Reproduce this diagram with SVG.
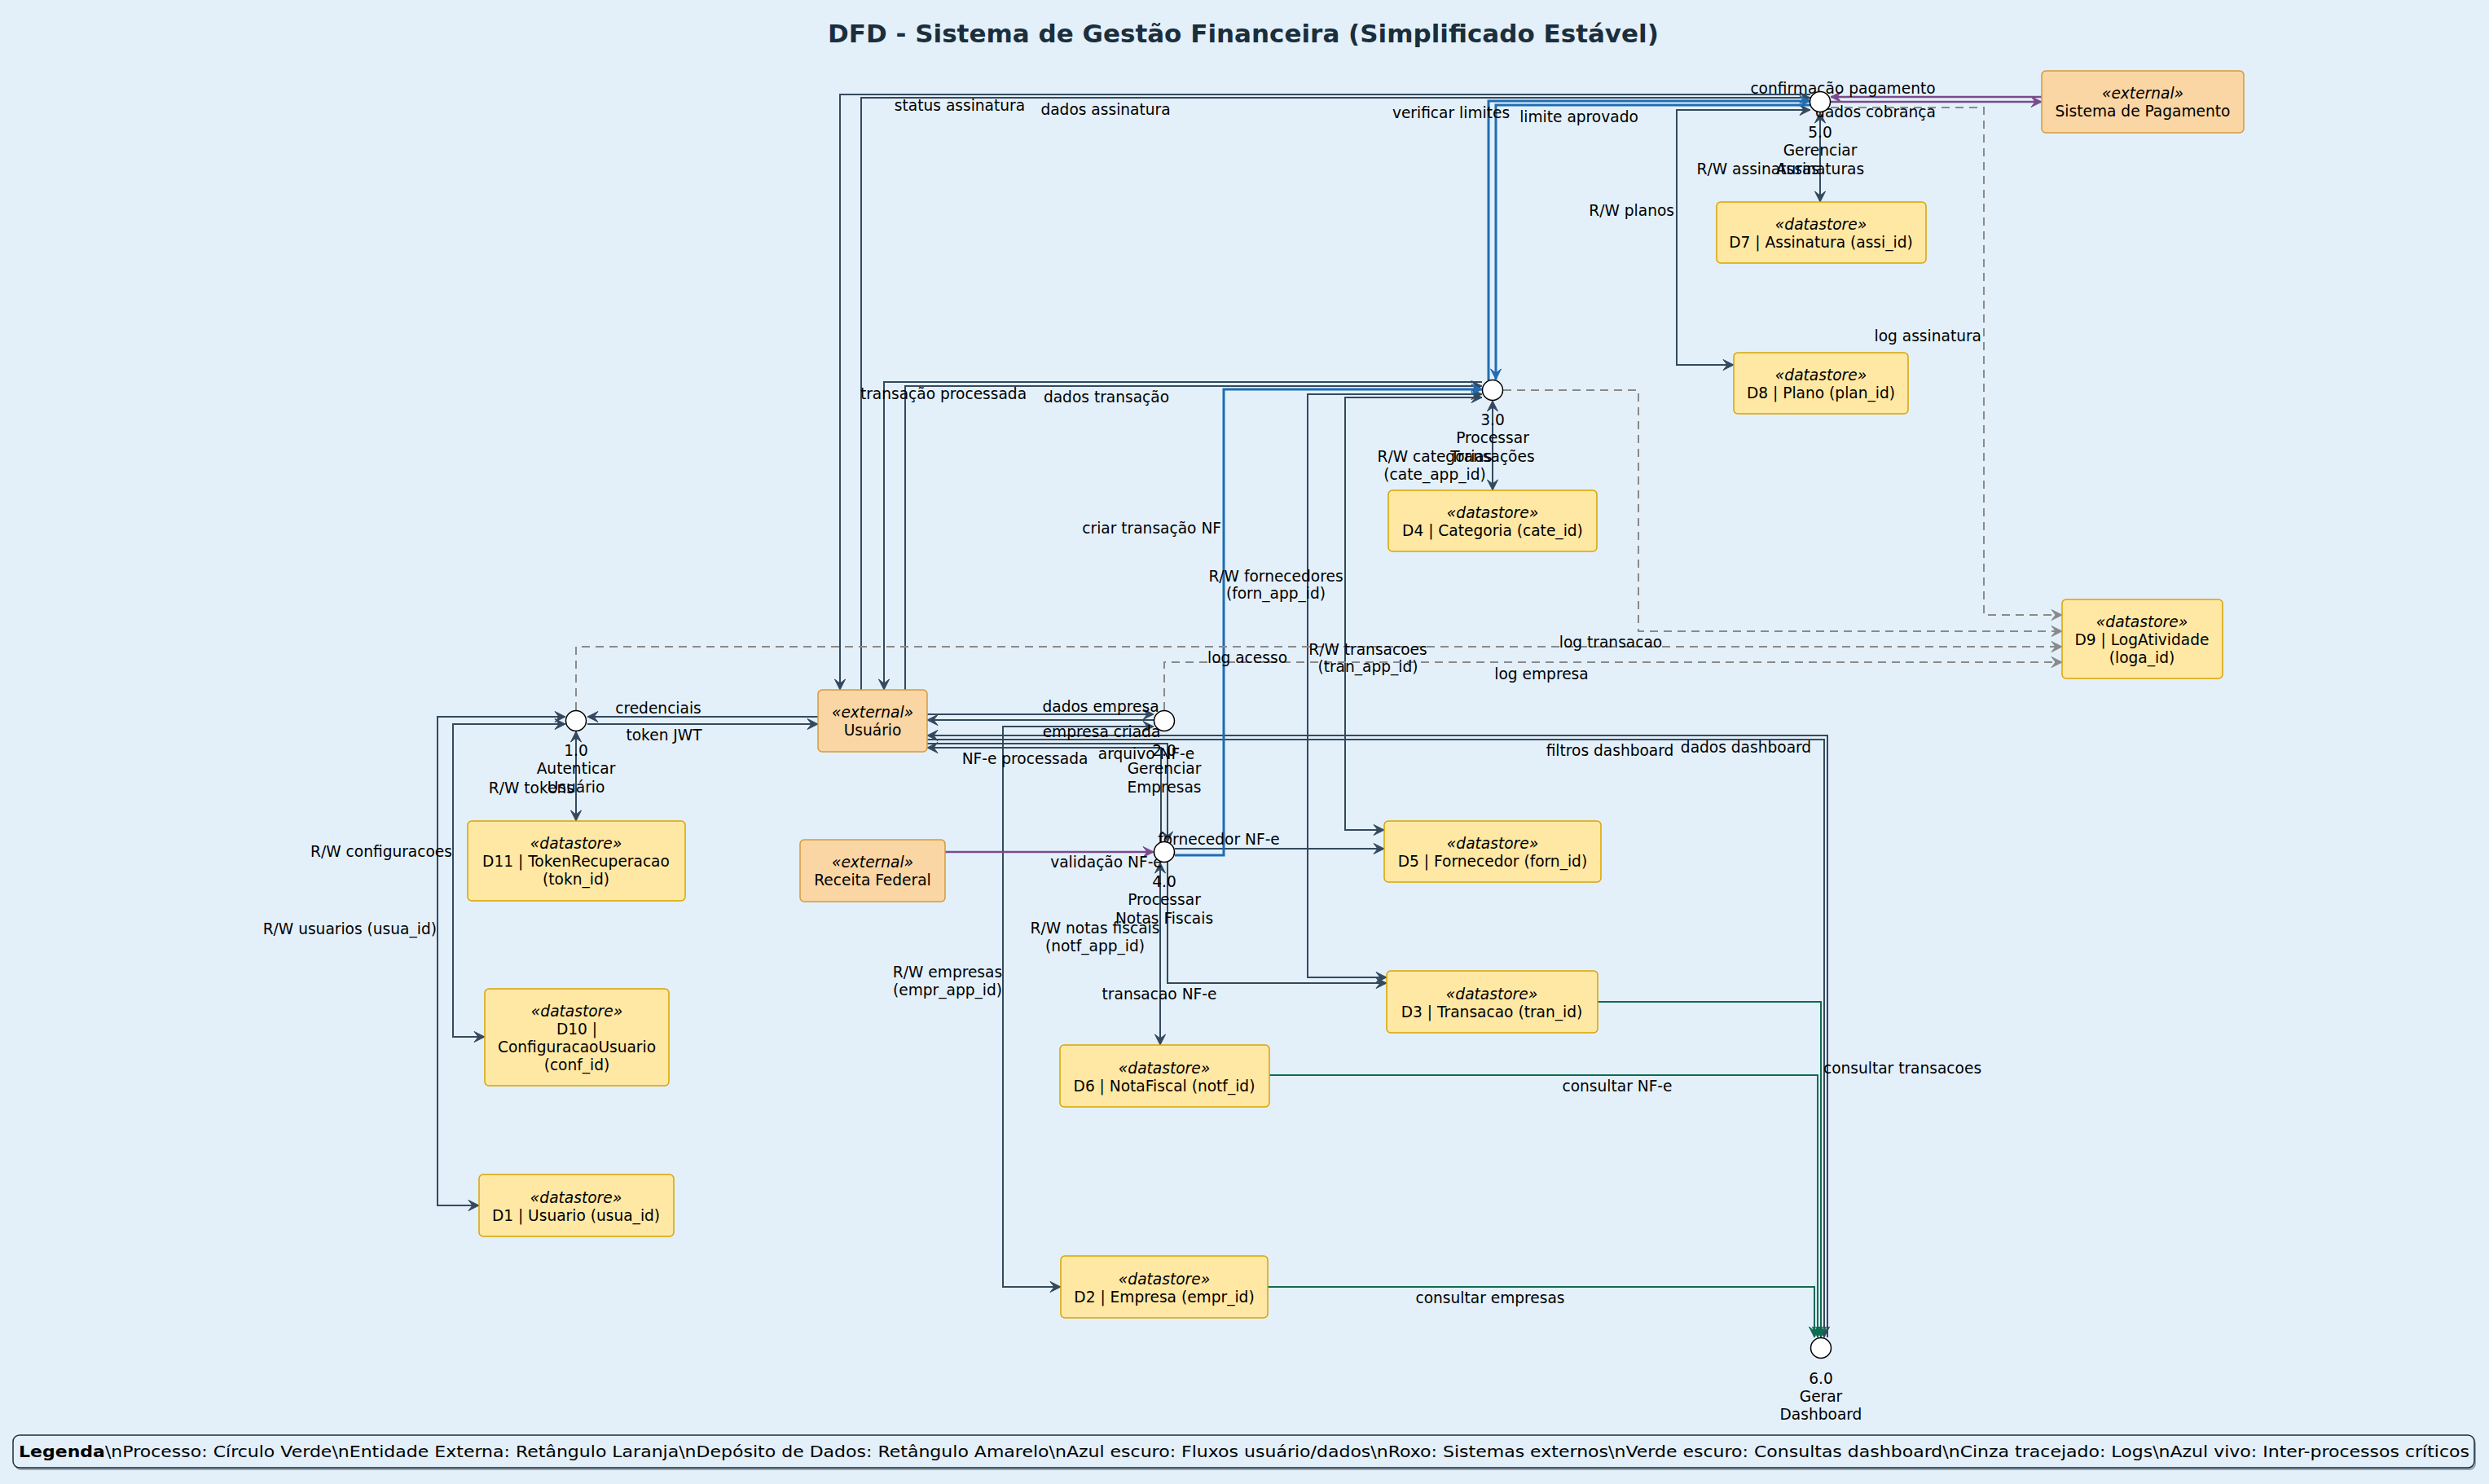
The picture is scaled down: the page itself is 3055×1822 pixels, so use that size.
<svg xmlns="http://www.w3.org/2000/svg" width="3055" height="1822" viewBox="0 0 3055 1822">
<style>
text{font-family:"DejaVu Sans","Liberation Sans",sans-serif;font-size:18.6px;fill:#000}
.t{font-size:31px;font-weight:bold;fill:#1B2E3C;text-anchor:middle}
.c{text-anchor:middle}
.e{text-anchor:end}
.st{font-style:italic}
.ext{fill:#F9D6A4;stroke:#D39A3C;stroke-width:1.5}
.ds{fill:#FFE8A4;stroke:#D9A400;stroke-width:1.5}
.proc{fill:#FFFFFF;stroke:#000;stroke-width:1.5}
.f{fill:none;stroke:#34495E;stroke-width:2}
.b{fill:none;stroke:#1F6DB3;stroke-width:3}
.p{fill:none;stroke:#7A4B8C;stroke-width:2.5}
.g{fill:none;stroke:#0F6B52;stroke-width:2}
.d{fill:none;stroke:#8A8A8A;stroke-width:2;stroke-dasharray:10 7}
</style>
<defs>
<marker id="af" viewBox="-16 -8 18 16" refX="0" refY="0" markerWidth="18" markerHeight="16" markerUnits="userSpaceOnUse" orient="auto-start-reverse"><path d="M0,0 L-13,-6.5 L-8,0 L-13,6.5 Z" fill="#34495E" stroke="#34495E" stroke-width="1"/></marker>
<marker id="ab" viewBox="-16 -8 18 16" refX="0" refY="0" markerWidth="18" markerHeight="16" markerUnits="userSpaceOnUse" orient="auto-start-reverse"><path d="M0,0 L-13,-6.5 L-8,0 L-13,6.5 Z" fill="#1F6DB3" stroke="#1F6DB3" stroke-width="1"/></marker>
<marker id="ap" viewBox="-16 -8 18 16" refX="0" refY="0" markerWidth="18" markerHeight="16" markerUnits="userSpaceOnUse" orient="auto-start-reverse"><path d="M0,0 L-13,-6.5 L-8,0 L-13,6.5 Z" fill="#7A4B8C" stroke="#7A4B8C" stroke-width="1"/></marker>
<marker id="ag" viewBox="-16 -8 18 16" refX="0" refY="0" markerWidth="18" markerHeight="16" markerUnits="userSpaceOnUse" orient="auto-start-reverse"><path d="M0,0 L-13,-6.5 L-8,0 L-13,6.5 Z" fill="#0F6B52" stroke="#0F6B52" stroke-width="1"/></marker>
<marker id="ad" viewBox="-16 -8 18 16" refX="0" refY="0" markerWidth="18" markerHeight="16" markerUnits="userSpaceOnUse" orient="auto-start-reverse"><path d="M0,0 L-13,-6.5 L-8,0 L-13,6.5 Z" fill="#8A8A8A" stroke="#8A8A8A" stroke-width="1"/></marker>
</defs>
<rect x="0" y="0" width="3055" height="1822" fill="#E3F0FA"/>
<text class="t" x="1526" y="52">DFD - Sistema de Gestão Financeira (Simplificado Estável)</text>

<g id="connectors">
<!-- dark flows -->
<path class="f" d="M1004,880 L721,880" marker-end="url(#af)"/>
<path class="f" d="M721,889 L1004,889" marker-end="url(#af)"/>
<path class="f" d="M707,898 L707,1008" marker-start="url(#af)" marker-end="url(#af)"/>
<path class="f" d="M694,889 L556,889 L556,1273 L595,1273" marker-start="url(#af)" marker-end="url(#af)"/>
<path class="f" d="M694,880 L537,880 L537,1480 L588,1480" marker-start="url(#af)" marker-end="url(#af)"/>
<path class="f" d="M1138,877 L1416,877" marker-end="url(#af)"/>
<path class="f" d="M1416,884 L1138,884" marker-end="url(#af)"/>
<path class="f" d="M1416,892 L1231,892 L1231,1580 L1302,1580" marker-start="url(#af)" marker-end="url(#af)"/>
<path class="f" d="M1138,913 L1433,913 L1433,1034" marker-end="url(#af)"/>
<path class="f" d="M1425,1034 L1425,918 L1138,918" marker-end="url(#af)"/>
<path class="f" d="M1424,1059 L1424,1283" marker-start="url(#af)" marker-end="url(#af)"/>
<path class="f" d="M1442,1042 L1699,1042" marker-end="url(#af)"/>
<path class="f" d="M1433,1058 L1433,1207 L1702,1207" marker-end="url(#af)"/>
<path class="f" d="M1111,847 L1111,474 L1819,474" marker-end="url(#af)"/>
<path class="f" d="M1819,469 L1085,469 L1085,847" marker-end="url(#af)"/>
<path class="f" d="M1832,492 L1832,602" marker-start="url(#af)" marker-end="url(#af)"/>
<path class="f" d="M1819,488 L1651,488 L1651,1019 L1699,1019" marker-start="url(#af)" marker-end="url(#af)"/>
<path class="f" d="M1819,484 L1605,484 L1605,1200 L1702,1200" marker-start="url(#af)" marker-end="url(#af)"/>
<path class="f" d="M1057,847 L1057,120 L2222,120" marker-end="url(#af)"/>
<path class="f" d="M2222,116 L1031,116 L1031,847" marker-end="url(#af)"/>
<path class="f" d="M2234,138 L2234,248" marker-start="url(#af)" marker-end="url(#af)"/>
<path class="f" d="M2222,135 L2058,135 L2058,448 L2128,448" marker-start="url(#af)" marker-end="url(#af)"/>
<path class="f" d="M1138,908 L2239,908 L2239,1642" marker-end="url(#af)"/>
<path class="f" d="M2243,1642 L2243,903 L1138,903" marker-end="url(#af)"/>
<!-- blue critical -->
<path class="b" d="M1442,1050 L1502,1050 L1502,478 L1819,478" marker-end="url(#ab)"/>
<path class="b" d="M1827,467 L1827,124 L2222,124" marker-end="url(#ab)"/>
<path class="b" d="M2222,129 L1836,129 L1836,466" marker-end="url(#ab)"/>
<!-- purple external -->
<path class="p" d="M2506,119 L2247,119" marker-end="url(#ap)"/>
<path class="p" d="M2247,125 L2506,125" marker-end="url(#ap)"/>
<path class="p" d="M1160,1046 L1416,1046" marker-end="url(#ap)"/>
<!-- green dashboard -->
<path class="g" d="M1961,1230 L2235,1230 L2235,1642" marker-end="url(#ag)"/>
<path class="g" d="M1558,1320 L2231,1320 L2231,1642" marker-end="url(#ag)"/>
<path class="g" d="M1556,1580 L2227,1580 L2227,1642" marker-end="url(#ag)"/>
<!-- gray logs -->
<path class="d" d="M707,872 L707,794 L2531,794" marker-end="url(#ad)"/>
<path class="d" d="M1429,872 L1429,813 L2531,813" marker-end="url(#ad)"/>
<path class="d" d="M1845,479 L2011,479 L2011,775 L2531,775" marker-end="url(#ad)"/>
<path class="d" d="M2247,132 L2435,132 L2435,755 L2531,755" marker-end="url(#ad)"/>
<!-- labels -->
<text class="c" x="808" y="876">credenciais</text>
<text class="c" x="815" y="909">token JWT</text>
<text class="e" x="705" y="974">R/W tokens</text>
<text class="e" x="555" y="1052">R/W configuracoes</text>
<text class="e" x="536" y="1147">R/W usuarios (usua_id)</text>
<text class="c" x="1351" y="874">dados empresa</text>
<text class="c" x="1352" y="905">empresa criada</text>
<text class="c" x="1258" y="938">NF-e processada</text>
<text class="c" x="1407" y="932">arquivo NF-e</text>
<text class="c" x="1163" y="1200">R/W empresas</text>
<text class="c" x="1163" y="1222">(empr_app_id)</text>
<text class="c" x="1358" y="1065">validação NF-e</text>
<text class="c" x="1496" y="1037">fornecedor NF-e</text>
<text class="c" x="1344" y="1146">R/W notas fiscais</text>
<text class="c" x="1344" y="1168">(notf_app_id)</text>
<text class="c" x="1423" y="1227">transacao NF-e</text>
<text class="e" x="1499" y="655">criar transação NF</text>
<text class="c" x="1358" y="494">dados transação</text>
<text class="c" x="1158" y="490">transação processada</text>
<text class="c" x="1761" y="567">R/W categorias</text>
<text class="c" x="1761" y="589">(cate_app_id)</text>
<text class="c" x="1566" y="714">R/W fornecedores</text>
<text class="c" x="1566" y="735">(forn_app_id)</text>
<text class="c" x="1679" y="804">R/W transacoes</text>
<text class="c" x="1679" y="825">(tran_app_id)</text>
<text class="c" x="1781" y="145">verificar limites</text>
<text class="c" x="1938" y="150">limite aprovado</text>
<text class="c" x="1178" y="136">status assinatura</text>
<text class="c" x="1357" y="141">dados assinatura</text>
<text class="c" x="2262" y="115">confirmação pagamento</text>
<text class="c" x="2302" y="144">dados cobrança</text>
<text class="e" x="2233" y="214">R/W assinaturas</text>
<text class="e" x="2055" y="265">R/W planos</text>
<text class="e" x="2432" y="419">log assinatura</text>
<text class="c" x="1977" y="795">log transacao</text>
<text class="c" x="1531" y="814">log acesso</text>
<text class="c" x="1892" y="834">log empresa</text>
<text class="c" x="1976" y="928">filtros dashboard</text>
<text class="c" x="2143" y="924">dados dashboard</text>
<text class="c" x="2335" y="1318">consultar transacoes</text>
<text class="c" x="1985" y="1340">consultar NF-e</text>
<text class="c" x="1829" y="1600">consultar empresas</text>
</g>

<g id="p1"><circle class="proc" cx="707" cy="885" r="12.5"/><text class="c" x="707" y="928">1.0</text><text class="c" x="707" y="950">Autenticar</text><text class="c" x="707" y="973">Usuário</text></g>
<g id="p2"><circle class="proc" cx="1429" cy="885" r="12.5"/><text class="c" x="1429" y="928">2.0</text><text class="c" x="1429" y="950">Gerenciar</text><text class="c" x="1429" y="973">Empresas</text></g>
<g id="p3"><circle class="proc" cx="1832" cy="479" r="12.5"/><text class="c" x="1832" y="522">3.0</text><text class="c" x="1832" y="544">Processar</text><text class="c" x="1832" y="567">Transações</text></g>
<g id="p4"><circle class="proc" cx="1429" cy="1046" r="12.5"/><text class="c" x="1429" y="1089">4.0</text><text class="c" x="1429" y="1111">Processar</text><text class="c" x="1429" y="1134">Notas Fiscais</text></g>
<g id="p5"><circle class="proc" cx="2234" cy="125" r="12.5"/><text class="c" x="2234" y="169">5.0</text><text class="c" x="2234" y="191">Gerenciar</text><text class="c" x="2234" y="214">Assinaturas</text></g>
<g id="p6"><circle class="proc" cx="2235" cy="1655" r="12.5"/><text class="c" x="2235" y="1699">6.0</text><text class="c" x="2235" y="1721">Gerar</text><text class="c" x="2235" y="1743">Dashboard</text></g>

<g id="usuario"><rect class="ext" x="1004" y="847" width="134" height="76" rx="5"/><text class="c st" x="1071" y="881">«external»</text><text class="c" x="1071" y="903">Usuário</text></g>
<g id="pagamento"><rect class="ext" x="2506" y="87" width="248" height="76" rx="5"/><text class="c st" x="2630" y="121">«external»</text><text class="c" x="2630" y="143">Sistema de Pagamento</text></g>
<g id="receita"><rect class="ext" x="982" y="1031" width="178" height="76" rx="5"/><text class="c st" x="1071" y="1065">«external»</text><text class="c" x="1071" y="1087">Receita Federal</text></g>

<g id="d1"><rect class="ds" x="588" y="1442" width="239" height="76" rx="5"/><text class="c st" x="707" y="1477">«datastore»</text><text class="c" x="707" y="1499">D1 | Usuario (usua_id)</text></g>
<g id="d2"><rect class="ds" x="1302" y="1542" width="254" height="76" rx="5"/><text class="c st" x="1429" y="1577">«datastore»</text><text class="c" x="1429" y="1599">D2 | Empresa (empr_id)</text></g>
<g id="d3"><rect class="ds" x="1702" y="1192" width="259" height="76" rx="5"/><text class="c st" x="1831" y="1227">«datastore»</text><text class="c" x="1831" y="1249">D3 | Transacao (tran_id)</text></g>
<g id="d4"><rect class="ds" x="1704" y="602" width="256" height="75" rx="5"/><text class="c st" x="1832" y="636">«datastore»</text><text class="c" x="1832" y="658">D4 | Categoria (cate_id)</text></g>
<g id="d5"><rect class="ds" x="1699" y="1008" width="266" height="75" rx="5"/><text class="c st" x="1832" y="1042">«datastore»</text><text class="c" x="1832" y="1064">D5 | Fornecedor (forn_id)</text></g>
<g id="d6"><rect class="ds" x="1301" y="1283" width="257" height="76" rx="5"/><text class="c st" x="1429" y="1318">«datastore»</text><text class="c" x="1429" y="1340">D6 | NotaFiscal (notf_id)</text></g>
<g id="d7"><rect class="ds" x="2107" y="248" width="257" height="75" rx="5"/><text class="c st" x="2235" y="282">«datastore»</text><text class="c" x="2235" y="304">D7 | Assinatura (assi_id)</text></g>
<g id="d8"><rect class="ds" x="2128" y="433" width="214" height="75" rx="5"/><text class="c st" x="2235" y="467">«datastore»</text><text class="c" x="2235" y="489">D8 | Plano (plan_id)</text></g>
<g id="d9"><rect class="ds" x="2531" y="736" width="197" height="97" rx="5"/><text class="c st" x="2629" y="770">«datastore»</text><text class="c" x="2629" y="792">D9 | LogAtividade</text><text class="c" x="2629" y="814">(loga_id)</text></g>
<g id="d10"><rect class="ds" x="595" y="1214" width="226" height="119" rx="5"/><text class="c st" x="708" y="1248">«datastore»</text><text class="c" x="708" y="1270">D10 |</text><text class="c" x="708" y="1292">ConfiguracaoUsuario</text><text class="c" x="708" y="1314">(conf_id)</text></g>
<g id="d11"><rect class="ds" x="574" y="1008" width="267" height="98" rx="5"/><text class="c st" x="707" y="1042">«datastore»</text><text class="c" x="707" y="1064">D11 | TokenRecuperacao</text><text class="c" x="707" y="1086">(tokn_id)</text></g>

<g id="legend"><rect x="18" y="1765" width="3021" height="40" rx="8" fill="#9AA7B2"/><rect x="16" y="1762" width="3021" height="40" rx="8" fill="#E3F0FA" stroke="#1B2E3C" stroke-width="1.5"/><text x="23" y="1789" textLength="3008" lengthAdjust="spacingAndGlyphs"><tspan font-weight="bold">Legenda</tspan>\nProcesso: Círculo Verde\nEntidade Externa: Retângulo Laranja\nDepósito de Dados: Retângulo Amarelo\nAzul escuro: Fluxos usuário/dados\nRoxo: Sistemas externos\nVerde escuro: Consultas dashboard\nCinza tracejado: Logs\nAzul vivo: Inter-processos críticos</text></g>
</svg>
